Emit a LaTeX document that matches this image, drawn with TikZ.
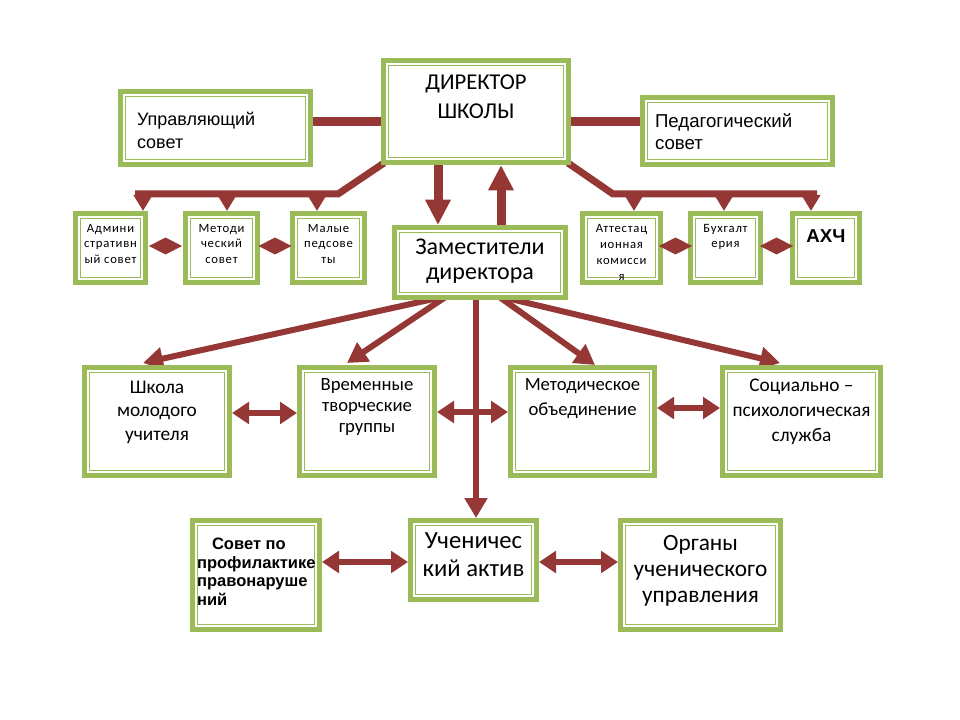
\documentclass[tikz,border=0pt]{standalone}
\usepackage{fontspec}
\setmainfont{Carlito}
\newfontfamily\arialf{Liberation Sans}
\newfontfamily\spacedf[LetterSpace=6]{Carlito}
\usetikzlibrary{arrows.meta,calc}
\definecolor{boxgreen}{HTML}{9BBB59}
\definecolor{arrred}{HTML}{953735}
\pgfdeclarelayer{bg}
\pgfsetlayers{bg,main}
\tikzset{
  box/.style={draw=boxgreen, line width=3.75pt, fill=white, inner sep=0pt,
    path picture={\draw[boxgreen, line width=1.1pt]
      ([shift={(3.9pt,3.9pt)}]path picture bounding box.south west) rectangle
      ([shift={(-3.9pt,-3.9pt)}]path picture bounding box.north east);}},
  bar/.style={draw=arrred, line width=6.75pt},
  bus/.style={draw=arrred, line width=5.25pt},
  drop/.style={draw=arrred, line width=5.25pt, -{Triangle[length=12pt,width=13.5pt]}},
  arr/.style={draw=arrred, line width=4.5pt, -{Triangle[length=15pt,width=16.5pt]}},
  bigarr/.style={draw=arrred, line width=6.75pt, -{Triangle[length=19pt,width=18pt]}},
  darr/.style={draw=arrred, line width=4.5pt, {Triangle[length=12.75pt,width=16pt]}-{Triangle[length=12.75pt,width=16pt]}},
  diam/.style={fill=arrred},
}
% name, x1, y1, x2, y2 (outer, px), setup, top offset (px), text
\newcommand{\bx}[8]{\node[box] (#1) at ({(#2+#4)/2},{(#3+#5)/2})
  {\parbox[c][\dimexpr(#5pt-#3pt-5pt)*3/4\relax][t]{\dimexpr(#4pt-#2pt-5pt)*3/4\relax}{#6\vspace*{\dimexpr #7pt*3/4\relax}#8\par}};}
% diamond link between two boxes: left box, right box
\newcommand{\dlink}[2]{\fill[diam] ($(#1.east)!0.5!(#2.west)+(-16.5,-2)$) -- ($(#1.east)!0.5!(#2.west)+(0,-10.5)$) -- ($(#1.east)!0.5!(#2.west)+(16.5,-2)$) -- ($(#1.east)!0.5!(#2.west)+(0,6.5)$) -- cycle;}
\begin{document}
\begin{tikzpicture}[x=0.75pt,y=-0.75pt]
\useasboundingbox (0,0) rectangle (960,720);
% boxes
\bx{dir}{381}{58}{571}{165}{\centering\fontsize{17}{21.75}\selectfont}{14.5}{ДИРЕКТОР\\ШКОЛЫ}
\bx{upr}{118}{89}{313}{167}{\raggedright\leftskip=12.4pt\arialf\fontsize{13.5}{17.25}\selectfont}{20.5}{Управляющий\\совет}
\bx{ped}{640}{95}{835}{167}{\raggedright\leftskip=9.4pt\arialf\fontsize{14}{16}\selectfont}{16.5}{Педагогический\\совет}
\bx{admin}{73}{211}{148}{285}{\centering\spacedf\fontsize{9.5}{11.6}\selectfont}{10.5}{Админи\\стративн\\ый совет}
\bx{metod}{183}{211}{260}{285}{\centering\spacedf\fontsize{9.5}{11.6}\selectfont}{10.5}{Методи\\ческий\\совет}
\bx{malye}{290}{211}{367}{285}{\centering\spacedf\fontsize{9.5}{11.6}\selectfont}{10.5}{Малые\\педсове\\ты}
\bx{att}{580}{211}{663}{285}{\centering\spacedf\fontsize{9.5}{12}\selectfont}{10.5}{Аттестац\\ионная\\комисси\\я}
\bx{buh}{688}{211}{763}{285}{\centering\spacedf\fontsize{9.5}{11.6}\selectfont}{10.5}{Бухгалт\\ерия}
\bx{axch}{790}{211}{862}{285}{\centering\arialf\bfseries\fontsize{14}{17}\selectfont}{16.5}{АХЧ}
\bx{zam}{392}{225}{568}{300}{\centering\fontsize{18}{18.5}\selectfont}{11.5}{Заместители\\директора}
\bx{shkola}{82}{365}{232}{478}{\centering\fontsize{14.5}{17.5}\selectfont}{13.5}{Школа\\молодого\\учителя}
\bx{vrem}{297}{365}{437}{478}{\centering\fontsize{14}{15.5}\selectfont}{11.5}{Временные\\творческие\\группы}
\bx{metodob}{508}{365}{657}{478}{\centering\fontsize{14}{18.75}\selectfont}{11.5}{Методическое\\объединение}
\bx{soc}{720}{365}{883}{478}{\centering\fontsize{14.5}{18.75}\selectfont}{11.5}{Социально –\\психологическая\\служба}
\bx{sovet}{190}{518}{322}{632}{\raggedright\leftskip=3.4pt\arialf\bfseries\fontsize{12.4}{13.9}\selectfont}{17.5}{\hspace*{11.25pt}Совет по\\профилактике\\правонаруше\\ний}
\bx{uch}{408}{518}{539}{602}{\centering\fontsize{18.5}{21}\selectfont}{12.5}{Ученичес\\кий актив}
\bx{org}{618}{518}{783}{632}{\centering\fontsize{17.5}{19.5}\selectfont}{14.5}{Органы\\ученического\\управления}
% diamonds between the small boxes
\dlink{admin}{metod}
\dlink{metod}{malye}
\dlink{att}{buh}
\dlink{buh}{axch}
% connectors
\begin{pgfonlayer}{bg}
\fill[white] (0,0) rectangle (960,720);
\coordinate (yU) at (0,122);
\draw[bar] (upr.east |- yU) -- (dir.west |- yU);
\draw[bar] (dir.east |- yU) -- (ped.west |- yU);
% left bus
\coordinate (jl) at (338,194);
\coordinate (jlend) at (135,194);
\draw[bus] ($(dir.south west)+(3,-2)$) -- (jl) -- (jlend);
\coordinate (bA) at (143,194);
\coordinate (bM) at (227,194);
\coordinate (bS) at (317,194);
\draw[drop] (bA) -- (bA |- admin.north);
\draw[drop] (bM) -- (bM |- metod.north);
\draw[drop] (bS) -- (bS |- malye.north);
% right bus
\coordinate (jr) at (613,194);
\coordinate (jrend) at (817,194);
\draw[bus] ($(dir.south east)+(-3,-2)$) -- (jr) -- (jrend);
\coordinate (bT) at (634,194);
\coordinate (bB) at (724,194);
\coordinate (bX) at (811,194);
\draw[drop] (bT) -- (bT |- att.north);
\draw[drop] (bB) -- (bB |- buh.north);
\draw[drop] (bX) -- (bX |- axch.north);
% director <-> deputies
\draw[bigarr] ($(dir.south)+(-38,-4)$) -- ($(zam.north)+(-42,0)$);
\draw[bigarr] ($(zam.north)+(21,4)$) -- ($(dir.south)+(25,0)$);
% deputies -> units
\draw[arr] ($(zam.south)+(-33,-4)$) -- ($(shkola.north)+(-14,-2)$);
\draw[arr] ($(zam.south)+(-33,-4)$) -- ($(vrem.north)+(-20,-2)$);
\draw[arr] ($(zam.south)+(18,-4)$) -- ($(metodob.north)+(12.5,0)$);
\draw[arr] ($(zam.south)+(18,-4)$) -- ($(soc.north)+(-21.5,-2)$);
\draw[arr] ($(zam.south)+(-4,-4)$) -- ($(uch.north)+(2.5,0)$);
% horizontal double arrows
\coordinate (r1) at (0,413);
\coordinate (r2) at (0,412);
\coordinate (r3) at (0,408);
\coordinate (r4) at (0,562);
\draw[darr] (shkola.east |- r1) -- (vrem.west |- r1);
\draw[darr] (vrem.east |- r2) -- (metodob.west |- r2);
\draw[darr] (metodob.east |- r3) -- (soc.west |- r3);
\draw[darr] (sovet.east |- r4) -- (uch.west |- r4);
\draw[darr] (uch.east |- r4) -- (org.west |- r4);
\end{pgfonlayer}
\end{tikzpicture}
\end{document}
